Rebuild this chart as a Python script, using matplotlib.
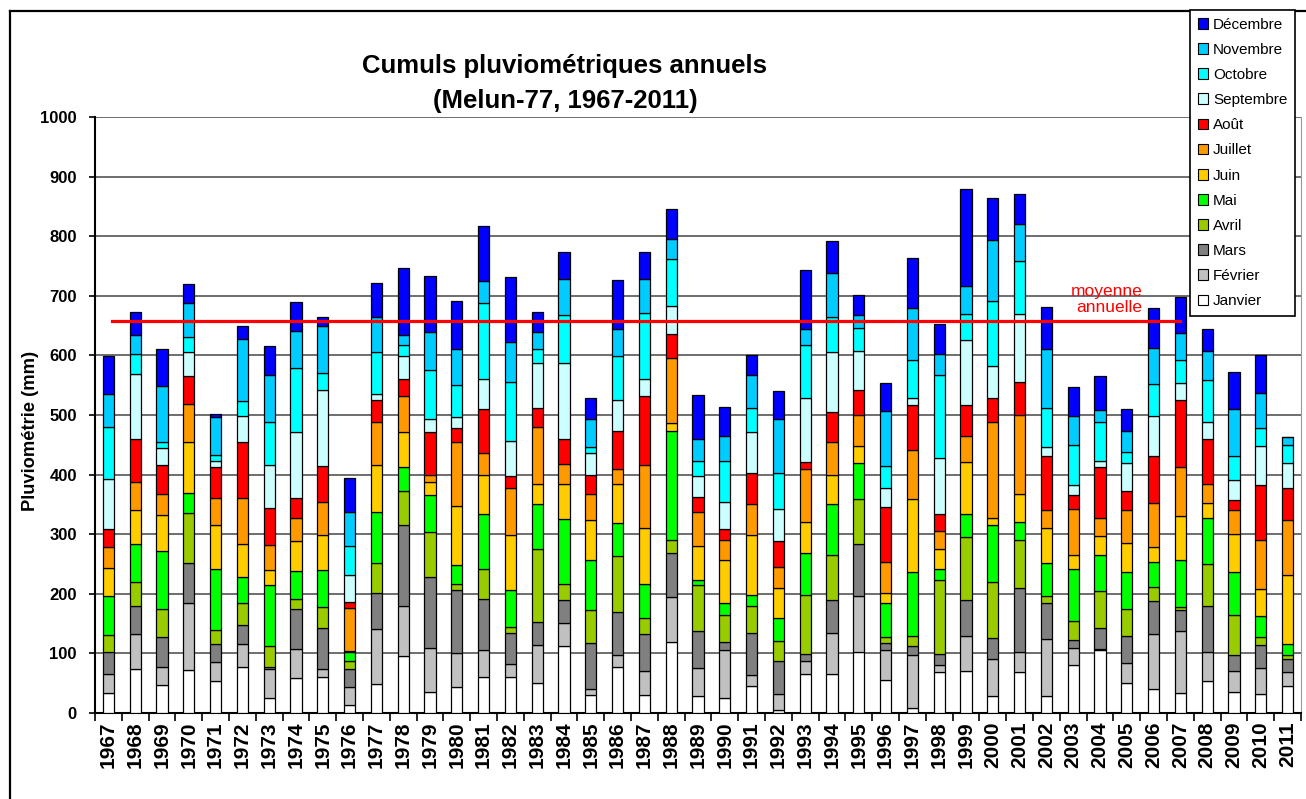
import numpy as np
import matplotlib
matplotlib.use("Agg")
import matplotlib.pyplot as plt
from matplotlib.patches import Patch
from matplotlib.lines import Line2D

plt.rcParams['font.family'] = ['Liberation Sans', 'DejaVu Sans']

# annual rainfall per month (mm), Melun 1967-2011
annees = list(range(1967, 2012))

janvier = [33, 74, 47, 72, 54, 77, 26, 58, 61, 13, 48, 95, 36, 44, 60, 60, 51, 112, 31, 78, 31, 119, 28,
           26, 45, 5, 66, 66, 103, 55, 8, 68, 70, 28, 68, 29, 80, 106, 51, 41, 33, 54, 36, 32, 46]
fevrier = [32, 59, 30, 112, 31, 38, 47, 50, 13, 31, 93, 85, 73, 56, 45, 23, 63, 39, 10, 20, 40, 75, 48,
           79, 19, 27, 21, 69, 94, 50, 90, 13, 60, 63, 35, 96, 29, 2, 33, 91, 104, 48, 35, 43, 22]
mars = [37, 46, 50, 68, 30, 32, 5, 67, 68, 30, 60, 135, 119, 107, 86, 52, 39, 39, 76, 71, 62, 74, 62,
        14, 71, 55, 12, 55, 87, 12, 14, 18, 60, 35, 106, 60, 14, 34, 46, 56, 36, 77, 27, 39, 23]
avril = [29, 41, 47, 84, 25, 37, 35, 16, 36, 13, 51, 58, 75, 10, 51, 10, 122, 26, 56, 94, 27, 23, 77,
         46, 45, 34, 99, 75, 75, 11, 18, 124, 105, 94, 81, 12, 32, 62, 45, 24, 5, 71, 67, 13, 7]
mai = [66, 63, 98, 33, 101, 45, 102, 48, 62, 16, 86, 40, 62, 32, 92, 61, 76, 109, 83, 55, 57, 182, 8,
       19, 18, 39, 70, 86, 61, 57, 106, 19, 39, 95, 31, 55, 86, 61, 61, 41, 78, 77, 71, 35, 17]
juin = [46, 58, 60, 85, 75, 55, 25, 50, 59, 1, 78, 58, 23, 98, 65, 93, 33, 59, 67, 66, 94, 14, 58,
        72, 101, 50, 52, 48, 28, 16, 123, 33, 87, 13, 47, 58, 24, 32, 49, 26, 74, 25, 64, 46, 116]
juillet = [36, 46, 35, 65, 44, 77, 42, 39, 55, 72, 72, 61, 11, 108, 37, 78, 96, 34, 45, 25, 105, 109, 57,
           34, 52, 35, 89, 55, 52, 53, 82, 31, 43, 160, 132, 31, 78, 31, 55, 74, 83, 33, 40, 83, 92]
aout = [29, 72, 49, 47, 52, 94, 62, 33, 60, 10, 38, 28, 72, 24, 74, 20, 32, 42, 31, 64, 116, 40, 24,
        19, 51, 43, 12, 51, 42, 92, 75, 28, 52, 41, 55, 91, 23, 84, 32, 79, 112, 75, 18, 92, 55]
septembre = [84, 110, 28, 40, 10, 43, 72, 111, 128, 45, 10, 39, 23, 17, 51, 60, 75, 128, 37, 53, 29, 47, 35,
             45, 69, 54, 107, 101, 66, 31, 12, 94, 110, 54, 114, 14, 17, 11, 48, 66, 29, 28, 33, 65, 41]
octobre = [88, 34, 10, 25, 11, 25, 73, 107, 29, 50, 70, 18, 82, 55, 127, 98, 23, 80, 10, 73, 110, 78, 26,
           69, 41, 61, 89, 58, 38, 37, 65, 139, 44, 108, 90, 66, 67, 65, 18, 54, 38, 70, 41, 30, 31]
novembre = [56, 31, 95, 57, 64, 104, 78, 62, 78, 57, 59, 18, 64, 59, 36, 67, 30, 60, 48, 45, 57, 34, 37,
            41, 55, 91, 27, 75, 22, 93, 86, 36, 47, 103, 62, 99, 48, 20, 35, 60, 46, 50, 78, 59, 13]
decembre = [63, 39, 62, 31, 5, 23, 49, 48, 16, 56, 56, 111, 94, 82, 93, 109, 33, 45, 34, 83, 45, 51, 73,
            50, 34, 46, 99, 53, 34, 47, 85, 49, 163, 70, 50, 70, 49, 57, 37, 67, 60, 37, 62, 63, 0]

mois = ['Janvier', 'Février', 'Mars', 'Avril', 'Mai', 'Juin', 'Juillet', 'Août',
        'Septembre', 'Octobre', 'Novembre', 'Décembre']
series = [janvier, fevrier, mars, avril, mai, juin, juillet, aout,
          septembre, octobre, novembre, decembre]
couleurs = ['#FFFFFF', '#C0C0C0', '#808080', '#99CC00', '#00FF00', '#FFCC00',
            '#FF9900', '#FF0000', '#CCFFFF', '#00FFFF', '#00CCFF', '#0000FF']

moyenne = 658
moyenne_debut, moyenne_fin = 1967, 2007

fig = plt.figure(figsize=(13.06, 7.99), dpi=100)
ax = fig.add_axes([95 / 1306, 1 - 713 / 799, 1206 / 1306, 596 / 799])

x = np.arange(len(annees))
bas = np.zeros(len(annees))
for nom, vals, c in zip(mois, series, couleurs):
    vals = np.array(vals, dtype=float)
    ax.bar(x, vals, width=0.42, bottom=bas, color=c, edgecolor='black',
           linewidth=0.9, zorder=3, label=nom)
    bas += vals

# ligne de la moyenne
i0 = annees.index(moyenne_debut) + 0.15
i1 = annees.index(moyenne_fin)
ax.plot([i0, i1], [moyenne, moyenne], color='#FF0000', lw=2.3, zorder=4)
ax.text(38.57, 672, 'moyenne\nannuelle', color='#FF0000', fontsize=12.5,
        ha='right', va='baseline', multialignment='right', linespacing=1.15, zorder=5)

ax.set_xlim(-0.5, len(annees) - 0.5)
ax.set_ylim(0, 1000)
ax.set_yticks(np.arange(0, 1001, 100))
ax.set_xticks(x)
ax.set_xticklabels([str(a) for a in annees], rotation=90, fontsize=15, fontweight='bold')
ax.set_xticks(np.arange(-0.5, len(annees), 1), minor=True)
ax.tick_params(axis='x', which='major', length=0, pad=6)
ax.tick_params(axis='x', which='minor', length=6, width=1.2, direction='out')
ax.tick_params(axis='y', length=4, width=1.2, pad=9, labelsize=12)
for t in ax.get_yticklabels():
    t.set_fontweight('bold')

ax.grid(axis='y', color='#555555', lw=1.2, zorder=0)
ax.spines['top'].set_visible(False)
ax.spines['right'].set_color('#999999')
ax.spines['left'].set_linewidth(1.5)
ax.spines['bottom'].set_linewidth(1.5)

fig.text(30.5 / 1306, 1 - 431 / 799, 'Pluviométrie (mm)', rotation=90, fontsize=13.2,
         fontweight='bold', ha='center', va='center')
fig.text(565 / 1306, 1 - 73 / 799, 'Cumuls pluviométriques annuels', fontsize=18.5,
         fontweight='bold', ha='center', va='baseline')
fig.text(565 / 1306, 1 - 108 / 799, '(Melun-77, 1967-2011)', fontsize=18.5,
         fontweight='bold', ha='center', va='baseline')

# cadre du graphique
fig.add_artist(Line2D([10 / 1306, 10 / 1306], [0, 1 - 11 / 799], color='black', lw=1.6,
                      transform=fig.transFigure))
fig.add_artist(Line2D([10 / 1306, 1], [1 - 11 / 799, 1 - 11 / 799], color='black', lw=1.6,
                      transform=fig.transFigure))

poignees = [Patch(facecolor=c, edgecolor='black', linewidth=0.8) for c in couleurs][::-1]
leg = fig.legend(poignees, mois[::-1], loc='upper left',
                 bbox_to_anchor=(1190 / 1306, 1 - 10 / 799), fontsize=11,
                 handlelength=0.7, handleheight=0.7, handletextpad=0.3,
                 labelspacing=0.73, borderpad=0.5, borderaxespad=0,
                 fancybox=False, framealpha=1, edgecolor='black')
leg.get_frame().set_linewidth(1.2)
leg.set_zorder(10)

fig.savefig('out.png', dpi=100)
